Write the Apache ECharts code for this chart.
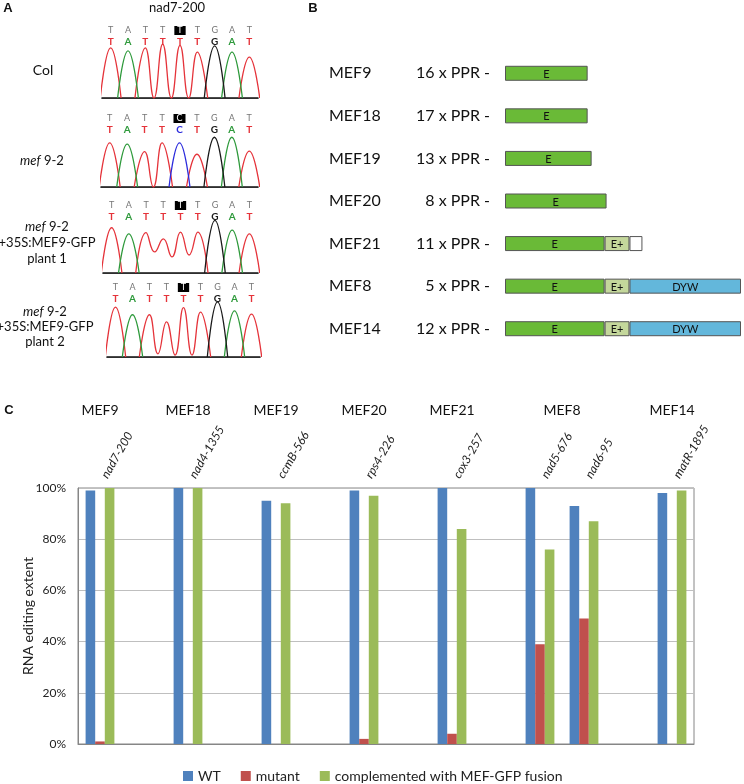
<!DOCTYPE html>
<html>
<head>
<meta charset="utf-8">
<title>MEF editing</title>
<script src="https://cdn.jsdelivr.net/npm/echarts@6/dist/echarts.min.js"></script>
<style>
  html, body { margin: 0; padding: 0; background: #fff; }
  #main { width: 744px; height: 784px; }
</style>
</head>
<body>
<div id="main"></div>
<script>
// ---------- A: nad7-200 chromatograms ----------
// reference row (grey) and base calls (coloured) per sample
const seqCol    = ['T', 'A', 'T', 'T', 'T', 'T', 'G', 'A', 'T'];
const seqMef    = ['T', 'A', 'T', 'T', 'C', 'T', 'G', 'A', 'T'];
const seqPlant1 = ['T', 'A', 'T', 'T', 'T', 'T', 'G', 'A', 'T'];
const seqPlant2 = ['T', 'A', 'T', 'T', 'T', 'T', 'G', 'A', 'T'];
const editSite = 4; // boxed base (index)

// peak heights per position
const peaksCol    = [81, 76, 81, 87, 85, 74, 84, 74, 66];
const peaksMef    = [70, 68, 56, 70, 70, 52, 79, 79, 57];
const peaksPlant1 = [73, 63, 65, 55, 66, 66, 85, 69, 63];
const peaksPlant2 = [78, 66, 66, 55, 77, 70, 86, 72, 67];
// signal left between two neighbouring peaks of the same base
const valleysCol    = [0, 0, 0, 0, 0, 0, 0, 0];
const valleysMef    = [0, 0, 0, 0, 0, 0, 0, 0];
const valleysPlant1 = [0, 0, 34, 26, 29, 0, 0, 0];
const valleysPlant2 = [0, 0, 5, 3, 3, 0, 0, 0];

// ---------- B: domain structure ----------
const proteins   = ['MEF9', 'MEF18', 'MEF19', 'MEF20', 'MEF21', 'MEF8', 'MEF14'];
const pprRepeats = [16, 17, 13, 8, 11, 5, 12];
const domE       = [83, 83, 87, 102, 100, 100, 100];
const domEplus   = [0, 0, 0, 0, 25, 25, 25];
const domTail    = [0, 0, 0, 0, 13, 0, 0];
const domDYW     = [0, 0, 0, 0, 0, 112, 112];

// ---------- C: editing extent ----------
const genes        = ['nad7-200', 'nad4-1355', 'ccmB-566', 'rps4-226', 'cox3-257', 'nad5-676', 'nad6-95', 'matR-1895'];
const geneSlot     = [0, 2, 4, 6, 8, 10, 11, 13];
const wt           = [99, 100, 95, 99, 100, 100, 93, 98];
const mutant       = [1, 0, 0, 2, 4, 39, 49, 0];
const complemented = [100, 100, 94, 97, 84, 76, 87, 99];
const mefGroups    = ['MEF9', 'MEF18', 'MEF19', 'MEF20', 'MEF21', 'MEF8', 'MEF14'];
const mefGroupPos  = [0.5, 2.5, 4.5, 6.5, 8.5, 11, 13.5];
const slotCount = 14;

const baseColor = { T: '#e5333a', A: '#2f9a3c', C: '#2b2bdc', G: '#1a1a1a' };

// build one coloured trace from peaks (no extra points, only the read ones)
function tracePoints(seq, peaks, valleys, base) {
  const pts = [];
  seq.forEach((b, i) => {
    if (b !== base) return;
    const pos = i + 1;
    if (i === 0 || seq[i - 1] !== base) {
      if (pts.length) pts.push([pos - 1, '-']);
      pts.push([pos - 0.6, 0]);
    }
    pts.push([pos, peaks[i]]);
    if (i < seq.length - 1 && seq[i + 1] === base) pts.push([pos + 0.5, valleys[i]]);
    else pts.push([pos + 0.6, 0]);
  });
  return pts;
}

const chroma = [
  { seq: seqCol, peaks: peaksCol, valleys: valleysCol, grid: { left: 102, top: 36, width: 156, height: 62 } },
  { seq: seqMef, peaks: peaksMef, valleys: valleysMef, grid: { left: 101, top: 124, width: 157, height: 63 } },
  { seq: seqPlant1, peaks: peaksPlant1, valleys: valleysPlant1, grid: { left: 103, top: 211, width: 155, height: 62 } },
  { seq: seqPlant2, peaks: peaksPlant2, valleys: valleysPlant2, grid: { left: 107, top: 293, width: 153, height: 64 } }
];

const grids = [], xAxes = [], yAxes = [], series = [];

chroma.forEach((c, s) => {
  grids.push(c.grid);
  // grey reference letters sitting on the line
  xAxes.push({
    type: 'category', gridIndex: s, position: 'top',
    data: c.seq.map((b, i) => b + i),
    axisLine: { lineStyle: { color: '#8a8a8a', width: 1.2 } },
    axisTick: { show: false },
    axisLabel: {
      interval: 0, margin: 1, fontSize: 9, color: '#777',
      formatter: (v, i) => i === editSite ? '{hl|' + c.seq[i] + '}' : c.seq[i],
      rich: { hl: { backgroundColor: '#000', color: '#fff', fontSize: 9, padding: [0, 3, 0, 3] } }
    }
  });
  // coloured base calls under the line
  xAxes.push({
    type: 'category', gridIndex: s, position: 'top',
    data: c.seq.map((b, i) => b + i),
    axisLine: { show: false }, axisTick: { show: false },
    axisLabel: {
      interval: 0, inside: true, margin: 1, fontSize: 10, fontWeight: 'bold',
      formatter: (v, i) => '{' + c.seq[i] + '|' + c.seq[i] + '}',
      rich: {
        T: { color: baseColor.T, fontWeight: 'bold', fontSize: 10 },
        A: { color: baseColor.A, fontWeight: 'bold', fontSize: 10 },
        C: { color: baseColor.C, fontWeight: 'bold', fontSize: 10 },
        G: { color: baseColor.G, fontWeight: 'bold', fontSize: 10 }
      }
    }
  });
  // trace axis + black baseline
  xAxes.push({
    type: 'value', gridIndex: s, position: 'bottom', min: 0.5, max: 9.5,
    axisLine: { onZero: false, lineStyle: { color: '#111', width: 1.5 } },
    axisTick: { show: false }, axisLabel: { show: false }, splitLine: { show: false }
  });
  yAxes.push({ type: 'value', gridIndex: s, min: 0, max: 100, show: false });

  ['T', 'A', 'C', 'G'].forEach(b => {
    if (c.seq.indexOf(b) < 0) return;
    series.push({
      type: 'line', xAxisIndex: s * 3 + 2, yAxisIndex: s,
      data: tracePoints(c.seq, c.peaks, c.valleys, b),
      smooth: 0.5, showSymbol: false, silent: true, z: 3,
      lineStyle: { color: baseColor[b], width: 1.3 }
    });
  });
});

// ---------- B grid ----------
grids.push({ left: 505, top: 52, width: 240, height: 298 });
xAxes.push({ type: 'value', gridIndex: 4, min: 0, max: 240, show: false });
yAxes.push({
  type: 'category', gridIndex: 4, data: proteins, inverse: true,
  axisLine: { show: false }, axisTick: { show: false },
  axisLabel: {
    margin: 15, color: '#111',
    formatter: (v, i) => '{n|' + v + '}{p|' + pprRepeats[i] + ' x PPR -}',
    rich: {
      n: { width: 81, fontSize: 16, align: 'left', color: '#111' },
      p: { width: 80, fontSize: 16, align: 'right', color: '#111' }
    }
  }
});
const domains = [
  { name: 'E', data: domE, color: '#6aba37' },
  { name: 'E+', data: domEplus, color: '#c4d79b' },
  { name: 'tail', data: domTail, color: '#ffffff', text: '' },
  { name: 'DYW', data: domDYW, color: '#63b7db' }
];
domains.forEach(d => {
  series.push({
    name: d.name, type: 'bar', xAxisIndex: 12, yAxisIndex: 4, stack: 'dom',
    barWidth: 15, data: d.data.map(v => v || '-'), silent: true,
    itemStyle: { color: d.color, borderColor: '#555', borderWidth: 1 },
    label: {
      show: true, position: 'inside', fontSize: 11, color: '#111', offset: [0, 1],
      formatter: p => d.text !== undefined ? d.text : d.name
    }
  });
});

// ---------- C grid ----------
const toSlots = vals => {
  const arr = new Array(slotCount).fill('-');
  geneSlot.forEach((s, i) => { arr[s] = vals[i]; });
  return arr;
};
const slotLabels = new Array(slotCount).fill('');
geneSlot.forEach((s, i) => { slotLabels[s] = genes[i]; });

grids.push({ left: 78, top: 488, width: 616, height: 256, show: true, borderColor: '#868686', borderWidth: 1 });
xAxes.push({
  type: 'category', gridIndex: 5, position: 'top',
  data: slotLabels.map((g, i) => 's' + i),
  axisLine: { lineStyle: { color: '#868686' } }, axisTick: { show: false },
  axisLabel: {
    interval: 0, rotate: 60, margin: 3, padding: [0, 0, 0, 9],
    fontSize: 12, fontStyle: 'italic', color: '#222',
    formatter: (v, i) => slotLabels[i]
  }
});
xAxes.push({
  type: 'value', gridIndex: 5, position: 'top', min: 0, max: slotCount, offset: 63,
  axisLine: { show: false }, axisTick: { show: false }, splitLine: { show: false },
  axisLabel: {
    customValues: mefGroupPos, margin: 8, fontSize: 14, color: '#111',
    formatter: v => mefGroups[mefGroupPos.indexOf(v)] || ''
  }
});
yAxes.push({
  type: 'value', gridIndex: 5, min: 0, max: 100, interval: 20,
  axisLine: { show: true, lineStyle: { color: '#868686' } }, axisTick: { show: false },
  axisLabel: { formatter: '{value}%', fontSize: 12, color: '#222', margin: 12 },
  splitLine: { lineStyle: { color: '#bfbfbf' } },
  name: 'RNA editing extent', nameLocation: 'middle', nameGap: 43, nameMoveOverlap: false,
  nameTextStyle: { fontSize: 14, color: '#222' }
});
[['WT', wt, '#4f81bd'], ['mutant', mutant, '#c0504d'], ['complemented with MEF-GFP fusion', complemented, '#9bbb59']]
  .forEach(([name, vals, color]) => {
    series.push({
      name, type: 'bar', xAxisIndex: 13, yAxisIndex: 5,
      data: toSlots(vals), barWidth: 9.6, barGap: '0%',
      itemStyle: { color }
    });
  });

// text around the panels
const txt = (x, y, text, extra) => ({
  type: 'text', x, y,
  style: Object.assign({ text, fontFamily: 'Lato', fontSize: 13, fill: '#111', align: 'center', verticalAlign: 'middle' }, extra)
});
const italicRich = { i: { fontStyle: 'italic', fontFamily: 'Lato', fontSize: 13, fill: '#111' } };
const graphic = [
  txt(8, 8, 'A', { fontFamily: 'Liberation Sans', fontWeight: 'bold', fontSize: 13 }),
  txt(313, 8, 'B', { fontFamily: 'Liberation Sans', fontWeight: 'bold', fontSize: 13 }),
  txt(9, 410, 'C', { fontFamily: 'Liberation Sans', fontWeight: 'bold', fontSize: 13 }),
  txt(177, 8, 'nad7-200'),
  txt(43, 70, 'Col', { fontSize: 14 }),
  txt(42, 161, '{i|mef} 9-2', { rich: italicRich }),
  txt(47, 227, '{i|mef} 9-2', { rich: italicRich }),
  txt(47, 243, '+35S:MEF9-GFP'),
  txt(47, 259, 'plant 1'),
  txt(45, 312, '{i|mef} 9-2', { rich: italicRich }),
  txt(45, 327, '+35S:MEF9-GFP'),
  txt(45, 342, 'plant 2')
];

const myChart = echarts.init(document.getElementById('main'));
myChart.setOption({
  animation: false,
  backgroundColor: '#fff',
  textStyle: { fontFamily: 'Lato' },
  grid: grids,
  xAxis: xAxes,
  yAxis: yAxes,
  legend: {
    data: ['WT', 'mutant', 'complemented with MEF-GFP fusion'],
    left: 178, top: 764, icon: 'rect', itemWidth: 10, itemHeight: 10, itemGap: 20,
    textStyle: { fontSize: 14, color: '#222' }
  },
  graphic,
  series
});
</script>
</body>
</html>
